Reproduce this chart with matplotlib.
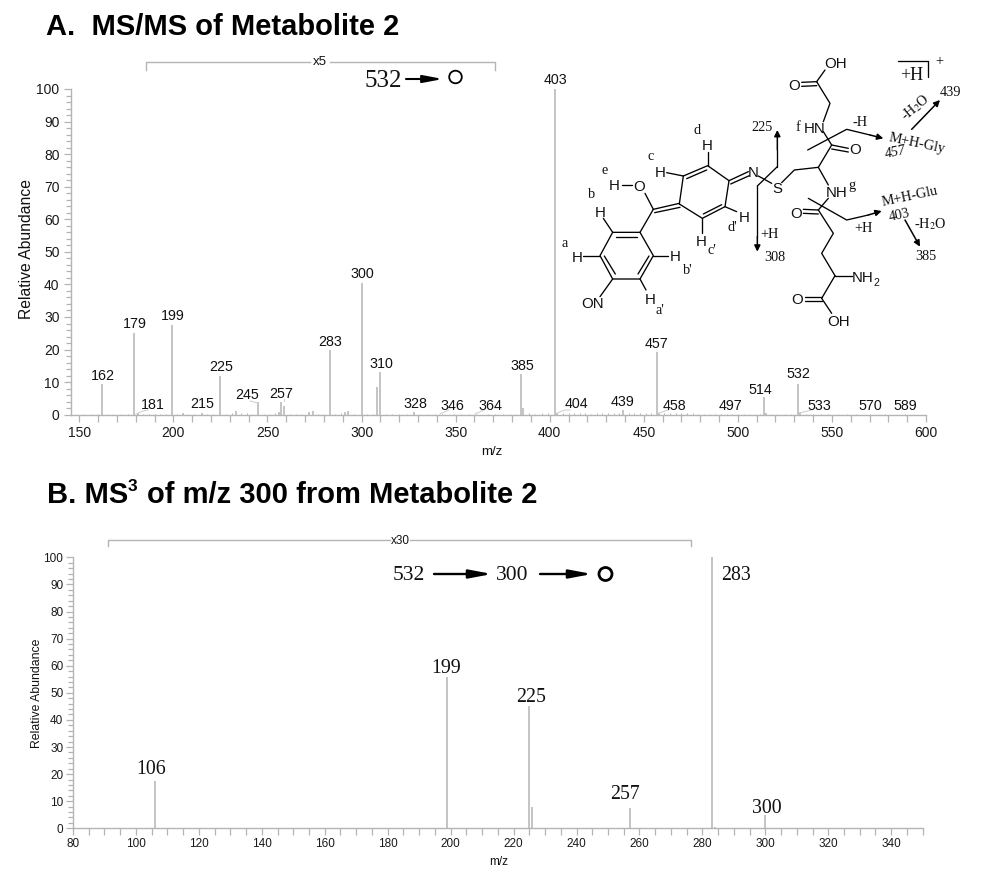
import matplotlib
matplotlib.use('Agg')
import matplotlib.pyplot as plt
from matplotlib.patches import Circle

W, H = 982, 874
GREY = '#b4b4b4'
SANS = 'Liberation Sans'
SERIF = 'Liberation Serif'

# Panel A peaks (m/z, relative abundance)
mz_a = [162, 179, 181, 199, 205, 215, 225, 233, 245, 256, 257, 259, 272, 274, 283, 291, 293,
        300, 308, 310, 328, 385, 386, 403, 404, 439, 457, 458, 514, 515, 532, 533]
int_a = [9.5, 25, 0.4, 27.5, 0.6, 0.6, 12, 1.2, 3.8, 0.8, 4, 2.6, 0.9, 1.1, 20, 0.7, 1.2,
         40.5, 8.5, 13, 0.8, 12.5, 2, 100, 0.6, 1.3, 19.3, 0.6, 5.5, 0.5, 9.5, 0.7]

# Small baseline peaks, panel A
noise_mz = [152, 156, 160, 165, 168, 172, 176, 184, 187, 190, 193, 196, 202, 208, 211, 218, 221,
            228, 231, 236, 239, 242, 248, 251, 254, 262, 265, 268, 277, 280, 286, 289, 296, 303,
            306, 313, 316, 320, 324, 331, 335, 339, 343, 349, 353, 357, 361, 367, 371, 375, 379,
            382, 389, 392, 396, 399, 407, 410, 413, 416, 419, 422, 425, 428, 431, 434, 437, 442,
            445, 448, 451, 454, 461, 464, 467, 470, 473, 476, 479, 482, 485, 488, 491, 494, 497,
            500, 503, 506, 509, 512, 518, 521, 525, 528, 536, 540, 544, 548, 553, 558, 563, 570,
            578, 589]
noise_int = [0.2, 0.2, 0.3, 0.2, 0.2, 0.3, 0.2, 0.3, 0.2, 0.3, 0.2, 0.3, 0.3, 0.3, 0.2, 0.3, 0.3,
             0.3, 0.4, 0.4, 0.5, 0.3, 0.3, 0.3, 0.4, 0.3, 0.3, 0.3, 0.3, 0.3, 0.3, 0.4, 0.3, 0.3,
             0.3, 0.3, 0.3, 0.3, 0.3, 0.3, 0.3, 0.3, 0.3, 0.3, 0.3, 0.3, 0.3, 0.3, 0.3, 0.3, 0.3,
             0.3, 0.4, 0.3, 0.4, 0.4, 0.4, 0.4, 0.4, 0.4, 0.4, 0.3, 0.4, 0.4, 0.4, 0.4, 0.4, 0.4,
             0.4, 0.4, 0.4, 0.4, 0.4, 0.4, 0.4, 0.4, 0.4, 0.4, 0.3, 0.3, 0.3, 0.3, 0.3, 0.3, 0.3,
             0.3, 0.3, 0.3, 0.3, 0.3, 0.3, 0.3, 0.3, 0.3, 0.3, 0.2, 0.2, 0.2, 0.2, 0.2, 0.2, 0.2,
             0.2, 0.2]

# Panel B peaks
mz_b = [106, 199, 225, 226, 257, 283, 284, 300]
int_b = [17.5, 56, 45, 8, 7.5, 100, 0.4, 4.8]

# Peak labels and where they sit on the page (pixels)
labels_a = ['162', '179', '181', '199', '215', '225', '245', '257', '283', '300', '310', '328',
            '346', '364', '385', '403', '404', '439', '457', '458', '497', '514', '532', '533',
            '570', '589']
label_xy_a = [(102.5, 376), (134.5, 324), (153, 405), (172.5, 316), (202, 404.5), (221, 367),
              (247, 395), (281, 393.5), (330, 341.5), (362, 274.5), (381, 363.5), (415, 403.5),
              (452, 405.5), (490, 405.5), (522, 365.5), (556, 79.5), (576, 404.5), (622.5, 402),
              (657, 343.5), (674, 405.5), (731, 405.5), (760, 389.5), (798, 374.5), (819, 405.5),
              (870, 405.5), (905, 405.5)]
labels_b = ['106', '199', '225', '257', '283', '300']
label_xy_b = [(151, 769), (446, 668.5), (531, 697.5), (625, 794.5), (736, 575.5), (767, 808.5)]

fig = plt.figure(figsize=(W / 100, H / 100), dpi=100)


def make_axes(left, right, top, bottom):
    return fig.add_axes([left / W, 1 - bottom / H, (right - left) / W, (bottom - top) / H])


def style_axes(ax, x_major, x_minor, y_minor, fs, pad):
    for s in ['top', 'right']:
        ax.spines[s].set_visible(False)
    for s in ['left', 'bottom']:
        ax.spines[s].set_color(GREY)
        ax.spines[s].set_linewidth(1.0)
    ax.set_ylim(0, 100)
    ax.set_xticks(x_major)
    ax.set_xticks(x_minor, minor=True)
    ax.set_yticks(range(0, 101, 10))
    ax.set_yticks(y_minor, minor=True)
    ax.tick_params(axis='both', which='major', length=5, width=0.9, color=GREY, labelsize=fs,
                   labelcolor='#1a1a1a', pad=pad)
    ax.tick_params(axis='both', which='minor', length=3.5, width=0.9, color=GREY)
    ax.tick_params(axis='x', which='minor', length=5)
    for lab in ax.get_xticklabels() + ax.get_yticklabels():
        lab.set_fontfamily(SANS)


# Panel A
ax_a = make_axes(70.7, 926, 89, 414.7)
ax_a.set_xlim(145.4, 600)
ax_a.vlines(noise_mz, 0, noise_int, color=GREY, lw=0.7)
ax_a.vlines(mz_a, 0, int_a, color=GREY, lw=1.1)
style_axes(ax_a, range(150, 601, 50), range(150, 601, 10), range(0, 101, 2), 10, 3)

# Panel B
ax_b = make_axes(73, 922.7, 557.3, 828.3)
ax_b.set_xlim(80, 350)
ax_b.vlines(mz_b, 0, int_b, color=GREY, lw=1.1)
style_axes(ax_b, range(80, 341, 20), range(80, 351, 5), range(0, 101, 2), 8.5, 2)

# Everything else is drawn on a page overlay in pixel coordinates
pg = fig.add_axes([0, 0, 1, 1], zorder=5)
pg.set_xlim(0, W)
pg.set_ylim(H, 0)
pg.axis('off')


def txt(x, y, s, fs=10, fam=SANS, ha='center', va='center', **kw):
    kw.setdefault('color', '#111111')
    pg.text(x, y, s, fontsize=fs, family=fam, ha=ha, va=va, **kw)


def arrow(x0, y0, x1, y1, lw=1.5, ms=14, style='-|>'):
    pg.annotate('', xy=(x1, y1), xytext=(x0, y0),
                arrowprops=dict(arrowstyle=style, color='black', lw=lw, mutation_scale=ms,
                                shrinkA=0, shrinkB=0))


LONG_HEAD = '-|>,head_length=0.9,head_width=0.17'

# Titles
txt(46, 35, 'A.  MS/MS of Metabolite 2', fs=21, ha='left', va='baseline', weight='bold', color='black')
txt(47, 503, 'B. MS', fs=21, ha='left', va='baseline', weight='bold', color='black')
txt(128, 491, '3', fs=12.5, ha='left', va='baseline', weight='bold', color='black')
txt(147, 503, 'of m/z 300 from Metabolite 2', fs=21, ha='left', va='baseline', weight='bold', color='black')

# Axis titles
txt(27, 249, 'Relative Abundance', fs=11.3, rotation=90)
txt(492, 452, 'm/z', fs=9.5)
txt(37, 693, 'Relative Abundance', fs=8.8, rotation=90)
txt(499, 862, 'm/z', fs=8.5)

# Peak labels
for s, (x, y) in zip(labels_a, label_xy_a):
    txt(x, y, s, fs=10.3)
for s, (x, y) in zip(labels_b, label_xy_b):
    txt(x, y, s, fs=14.3, fam=SERIF)

# Leader lines from small peaks to their labels
leaders = [[(136, 414), (143, 411), (148, 410)], [(258, 403), (250, 401)], [(440, 414), (449, 410)],
           [(475, 414), (484, 410)], [(557, 413), (565, 410), (570, 410)], [(659, 413), (668, 410)],
           [(799, 413), (812, 410)], [(284, 401), (284, 399)]]
for pts in leaders:
    pg.plot([p[0] for p in pts], [p[1] for p in pts], color='#cccccc', lw=0.7)

# Zoom brackets
pg.plot([146, 146, 310], [70, 61.5, 61.5], color=GREY, lw=1)
pg.plot([330, 495.5, 495.5], [61.5, 61.5, 70], color=GREY, lw=1)
txt(320, 62, 'x5', fs=9.5)
pg.plot([108, 108, 390], [546, 539.5, 539.5], color=GREY, lw=1)
pg.plot([410, 691, 691], [539.5, 539.5, 546], color=GREY, lw=1)
txt(400, 541, 'x30', fs=8.5)

# Scan notation
txt(383, 81, '532', fs=18, fam=SERIF)
arrow(406, 79, 443, 79, lw=1.5, ms=13, style=LONG_HEAD)
pg.add_patch(Circle((455.5, 77), 6.3, fill=False, ec='black', lw=1.3))
txt(409, 575, '532', fs=15.5, fam=SERIF)
arrow(434, 574, 492, 574, lw=1.7, ms=15, style=LONG_HEAD)
txt(512, 575, '300', fs=15.5, fam=SERIF)
arrow(540, 574, 592, 574, lw=1.7, ms=15, style=LONG_HEAD)
pg.add_patch(Circle((605.5, 574), 6.5, fill=False, ec='black', lw=2))


# Structure drawing: coordinates are taken from a 3x crop at (540, 50)
def zp(x, y):
    return 540 + x / 3, 50 + y / 3


bonds = [
    [(218, 547), (300, 547), (340, 617), (300, 687), (218, 687), (180, 617), (218, 547)],
    [(228, 560), (292, 560)], [(327, 618), (294, 672)], [(193, 618), (226, 672)],
    [(190, 505), (218, 547)], [(130, 617), (180, 617)], [(340, 617), (385, 617)],
    [(300, 687), (318, 720)], [(218, 687), (180, 740)], [(300, 547), (340, 478)],
    [(340, 478), (418, 460)], [(344, 488), (420, 472)], [(340, 478), (315, 430)],
    [(245, 405), (275, 405)],
    [(418, 462), (430, 378), (503, 347), (567, 392), (555, 470), (487, 505), (418, 462)],
    [(440, 386), (500, 360)], [(545, 464), (490, 492)],
    [(503, 305), (503, 347)], [(380, 368), (430, 378)], [(555, 470), (590, 485)],
    [(487, 505), (487, 550)], [(567, 392), (625, 365)], [(572, 402), (628, 377)],
    [(655, 378), (695, 400)], [(725, 398), (763, 360), (835, 352), (875, 285)],
    [(875, 285), (925, 295)], [(875, 297), (925, 306)], [(875, 285), (850, 245)],
    [(850, 215), (870, 160), (830, 95)], [(830, 95), (785, 97)], [(830, 107), (785, 109)],
    [(830, 95), (855, 60)], [(835, 352), (865, 405)], [(865, 445), (835, 480)],
    [(835, 480), (790, 478)], [(835, 492), (790, 490)],
    [(835, 480), (880, 550), (845, 610), (885, 677)], [(885, 677), (935, 677)],
    [(885, 677), (845, 745)], [(845, 740), (795, 740)], [(845, 752), (795, 752)],
    [(845, 745), (875, 790)],
    # fragmentation lines
    [(712, 350), (652, 408)], [(712, 350), (712, 300)], [(652, 408), (652, 560)],
    [(803, 300), (920, 238), (990, 255)], [(805, 445), (920, 510), (985, 495)],
    [(1075, 33), (1165, 33), (1165, 80)],
]
for pts in bonds:
    xy = [zp(*p) for p in pts]
    pg.plot([p[0] for p in xy], [p[1] for p in xy], color='black', lw=0.95, solid_capstyle='round')

heads = [((712, 300), (712, 240)), ((652, 560), (652, 605)), ((990, 255), (1030, 265)),
         ((985, 495), (1025, 483)), ((1115, 238), (1200, 150)), ((1095, 510), (1140, 590))]
for a, b in heads:
    x0, y0 = zp(*a)
    x1, y1 = zp(*b)
    arrow(x0, y0, x1, y1, lw=1.1, ms=9)

atoms = [(180, 488, 'H'), (112, 623, 'H'), (405, 622, 'H'), (157, 763, 'ON'), (298, 410, 'O'),
         (222, 408, 'H'), (503, 288, 'H'), (360, 368, 'H'), (612, 503, 'H'), (640, 368, 'N'),
         (712, 418, 'S'), (945, 300, 'O'), (825, 238, 'HN'), (762, 108, 'O'), (888, 42, 'OH'),
         (890, 428, 'NH'), (768, 492, 'O'), (772, 750, 'O'), (895, 815, 'OH'), (330, 750, 'H'),
         (483, 575, 'H'), (968, 685, 'NH')]
for x, y, s in atoms:
    px, py = zp(x, y)
    txt(px, py, s, fs=10.8)
px, py = zp(1010, 698)
txt(px, py, '2', fs=7.5)

serif_labels = [(75, 580, 'a'), (155, 435, 'b'), (332, 320, 'c'), (470, 240, 'd'), (195, 362, 'e'),
                (773, 232, 'f'), (935, 408, 'g'), (578, 532, "d'"), (443, 662, "b'"), (515, 600, "c'"),
                (360, 782, "a'"), (667, 232, '225'), (705, 622, '308'), (690, 552, '+H'),
                (960, 218, '-H'), (972, 537, '+H'), (1232, 128, '439'), (1158, 618, '385'),
                (1115, 75, '+H'), (1198, 35, '+')]
for x, y, s in serif_labels:
    px, py = zp(x, y)
    size = 13 if s == '+H' and x == 1115 else 10.3
    txt(px, py, s, fs=size, fam=SERIF)

rotated = [(1130, 280, 'M+H-Gly', -12, 'normal'), (1068, 308, '457', 12, 'italic'),
           (1110, 440, 'M+H-Glu', 12, 'normal'), (1078, 495, '403', 12, 'normal'),
           (1125, 172, '-H$_2$O', 40, 'normal'), (1170, 522, '-H$_2$O', 0, 'normal')]
for x, y, s, rot, style in rotated:
    px, py = zp(x, y)
    txt(px, py, s, fs=10.3, fam=SERIF, rotation=rot, style=style, math_fontfamily='stix')

fig.savefig('out.png', dpi=100)
